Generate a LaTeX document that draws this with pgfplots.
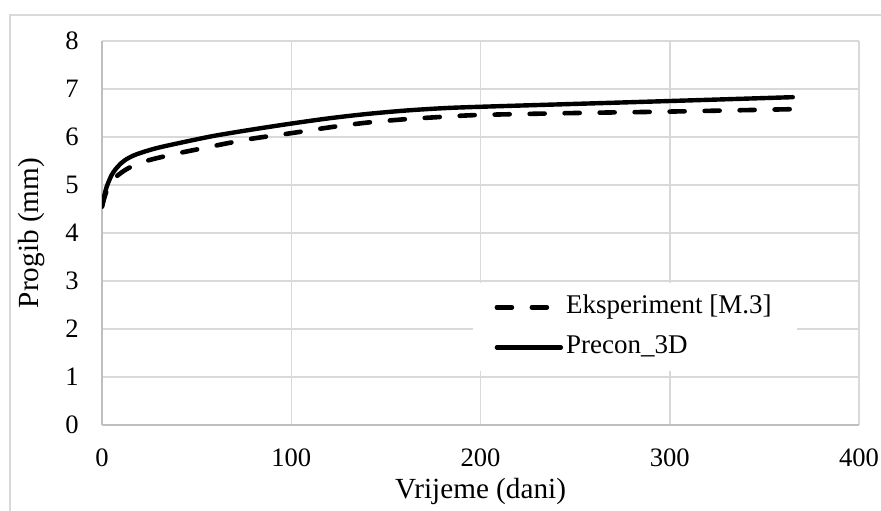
\documentclass[border=0pt]{standalone}
\usepackage{pgfplots}
\pgfplotsset{compat=1.18}
\usepackage{fontspec}
\setmainfont{Liberation Serif}
\definecolor{gridc}{RGB}{217,217,217}
\definecolor{axc}{RGB}{191,191,191}
\begin{document}
\begin{tikzpicture}
\useasboundingbox (-51pt,-42.5pt) rectangle (389.5pt,212.5pt);
\draw[gridc, line width=0.75pt] (-46pt,-50pt) -- (-46pt,205pt) -- (400pt,205pt);
\begin{axis}[
  scale only axis,
  width=378.5pt, height=192pt,
  at={(0pt,0pt)}, anchor=south west,
  xmin=0, xmax=400, ymin=0, ymax=8,
  xtick={0,100,200,300,400},
  ytick={0,1,2,3,4,5,6,7,8},
  /pgf/number format/assume math mode=true,
  every tick label/.append style={font=\fontsize{13.3}{15}\selectfont},
  xticklabel style={inner ysep=0pt, yshift=-11.5pt},
  yticklabel style={inner xsep=0pt, xshift=-11.5pt},
  major tick length=0pt,
  grid=major,
  major grid style={draw=gridc, line width=0.75pt},
  axis x line*=bottom, axis y line*=left,
  axis line style={-, draw=axc, line width=0.9pt},
  xlabel={Vrijeme (dani)},
  ylabel={Progib (mm)},
  every axis label/.append style={font=\fontsize{14.6}{17}\selectfont},
  xlabel style={at={(axis description cs:0.5,0)}, anchor=center, yshift=-33pt},
  ylabel style={at={(axis description cs:0,0.5)}, anchor=center, yshift=35pt},
  legend style={at={(0.489,0.370)}, anchor=north west, draw=none, fill=white,
    font=\fontsize{13.5}{16}\selectfont, inner xsep=11pt, inner ysep=2pt,
    nodes={text height=9.5pt, text depth=3pt, inner ysep=3.75pt, inner xsep=1.5pt}},
  legend cell align=left,
  legend image code/.code={\draw[#1] (0pt,0pt) -- (32pt,0pt);},
]
\addplot[black, line width=2.3pt, line cap=round, dash pattern=on 7.5pt off 10pt, smooth] coordinates {
(0,4.55)(1,4.7)(2,4.83)(3,4.93)(5,5.06)(8,5.19)(13,5.33)(20,5.46)(28,5.55)(40,5.66)(50,5.74)(65,5.86)(80,5.97)(100,6.08)(120,6.2)(140,6.3)(160,6.37)(180,6.42)(200,6.46)(250,6.5)(300,6.53)(365,6.58)
};
\addlegendentry{Eksperiment [M.3]\hspace{17pt}}
\addplot[black, line width=2.2pt, line cap=round, smooth] coordinates {
(0,4.55)(1,4.75)(2,4.9)(3,5.02)(5,5.2)(7,5.32)(10,5.45)(13,5.54)(17,5.62)(22,5.69)(30,5.78)(45,5.91)(60,6.03)(80,6.16)(100,6.28)(120,6.39)(140,6.48)(160,6.55)(180,6.6)(200,6.63)(250,6.69)(300,6.75)(365,6.83)
};
\addlegendentry{Precon\_3D}
\end{axis}
\end{tikzpicture}
\end{document}
